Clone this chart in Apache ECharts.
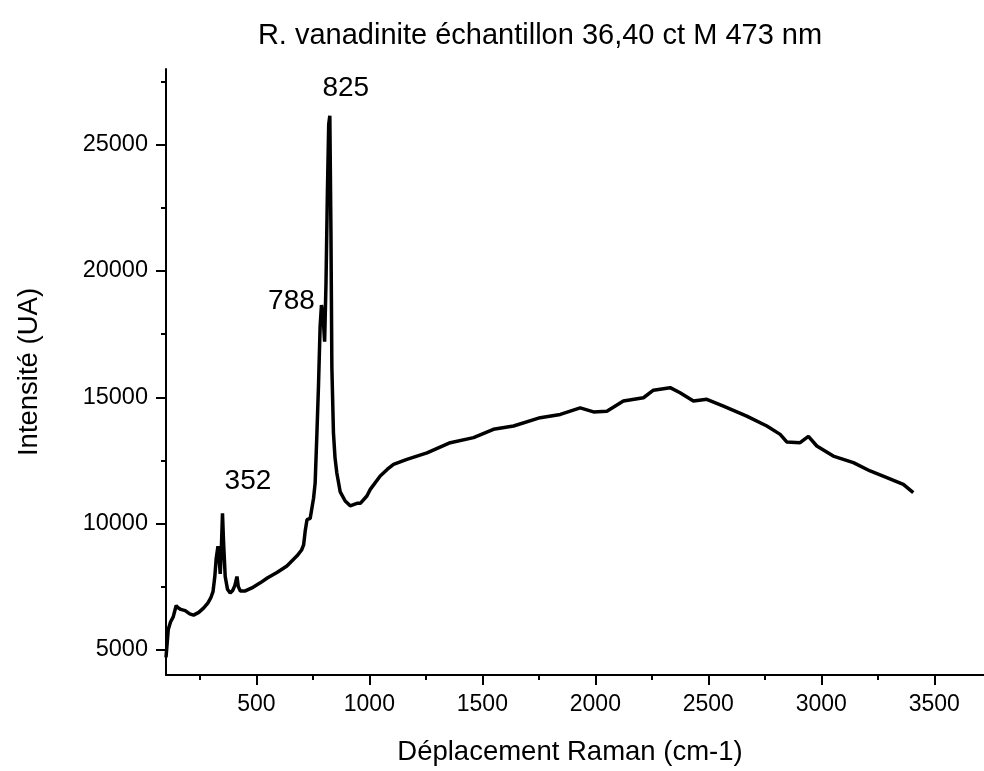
<!DOCTYPE html>
<html>
<head>
<meta charset="utf-8">
<script src="https://cdn.jsdelivr.net/npm/echarts@6/dist/echarts.min.js"></script>
<style>
  html, body { margin: 0; padding: 0; background: #fff; }
  #chart { width: 984px; height: 771px; }
</style>
</head>
<body>
<div id="chart"></div>
<script>
// spectre Raman
const wavenumber = [100, 110, 120, 132, 145, 155, 165, 185, 205, 222, 245, 266, 285, 298, 308, 316, 322, 330, 336, 340, 345, 350, 355, 362, 372, 384, 395, 405, 414, 420, 429, 451, 480, 517, 550, 591, 635, 680, 700, 709, 716, 724, 738, 746, 753, 760, 768, 775, 782, 788, 795, 802, 808, 814, 820, 825, 830, 834, 841, 848, 856, 871, 893, 915, 945, 960, 989, 1004, 1048, 1080, 1107, 1166, 1255, 1358, 1461, 1549, 1638, 1756, 1845, 1933, 1992, 2051, 2124, 2213, 2257, 2331, 2375, 2434, 2493, 2567, 2670, 2759, 2818, 2847, 2906, 2943, 2980, 3053, 3142, 3216, 3290, 3363, 3407];
const intensity = [4700, 5800, 6100, 6300, 6750, 6650, 6600, 6550, 6420, 6370, 6480, 6650, 6850, 7050, 7300, 7900, 8600, 9100, 8500, 8000, 9000, 10400, 9200, 7900, 7400, 7250, 7350, 7550, 7900, 7500, 7330, 7330, 7450, 7650, 7850, 8060, 8320, 8720, 8950, 9150, 9700, 10150, 10200, 10250, 11000, 11600, 13600, 15500, 17800, 18650, 18200, 17200, 19500, 23000, 25800, 26150, 21500, 16200, 13600, 12600, 12000, 11250, 10890, 10700, 10800, 10800, 11090, 11350, 11880, 12150, 12340, 12540, 12800, 13200, 13400, 13730, 13860, 14190, 14320, 14580, 14420, 14450, 14850, 14980, 15280, 15380, 15180, 14850, 14920, 14650, 14250, 13860, 13530, 13230, 13200, 13450, 13070, 12670, 12410, 12080, 11820, 11550, 11220];

const peakPos = [352, 788, 825];
const peakHeight = [10400, 18650, 26150];

const xMajor = [500, 1000, 1500, 2000, 2500, 3000, 3500];
const xMinor = [250, 750, 1250, 1750, 2250, 2750, 3250];
const yMajor = [5000, 10000, 15000, 20000, 25000];
const yMinor = [7500, 12500, 17500, 22500, 27500];

const FONT = 'Liberation Sans, Arial, sans-serif';
const chart = echarts.init(document.getElementById('chart'));

const points = wavenumber.map((x, i) => [x, intensity[i]]);
const labelOffsets = [[25, -32], [-30, -4], [16, -27]];

const axisBase = {
  type: 'value',
  splitLine: { show: false },
  axisLine: { onZero: false, lineStyle: { color: '#000', width: 2 } }
};
const plain = v => String(v);

const option = {
  animation: false,
  title: {
    text: 'R. vanadinite échantillon 36,40 ct M 473 nm',
    left: 535,
    top: 16,
    textAlign: 'center',
    textStyle: { fontFamily: FONT, fontSize: 29, fontWeight: 'normal', color: '#000' }
  },
  grid: { left: 166, right: 0, top: 69, bottom: 95 },
  xAxis: [
    Object.assign({}, axisBase, {
      min: 100, max: 3720, position: 'bottom',
      name: 'Déplacement Raman (cm-1)',
      nameLocation: 'middle',
      nameGap: 63,
      nameTextStyle: { fontFamily: FONT, fontSize: 27.5, color: '#000', padding: [0, 10, 0, 0] },
      axisTick: { customValues: xMajor, length: 10, lineStyle: { color: '#000', width: 2 } },
      axisLabel: { customValues: xMajor, formatter: plain, margin: 18, fontFamily: FONT, fontSize: 23, color: '#000' }
    }),
    Object.assign({}, axisBase, {
      min: 100, max: 3720, position: 'bottom',
      axisLine: { show: false, onZero: false },
      axisTick: { customValues: xMinor, length: 5, lineStyle: { color: '#000', width: 2 } },
      axisLabel: { show: false }
    })
  ],
  yAxis: [
    Object.assign({}, axisBase, {
      min: 4000, max: 28000, position: 'left',
      name: 'Intensité (UA)',
      nameLocation: 'middle',
      nameGap: 123,
      nameTextStyle: { fontFamily: FONT, fontSize: 27.5, color: '#000' },
      axisTick: { customValues: yMajor, length: 10, lineStyle: { color: '#000', width: 2 } },
      axisLabel: { customValues: yMajor, formatter: plain, margin: 18, fontFamily: FONT, fontSize: 23.5, color: '#000' }
    }),
    Object.assign({}, axisBase, {
      min: 4000, max: 28000, position: 'left',
      axisLine: { show: false, onZero: false },
      axisTick: { customValues: yMinor, length: 5, lineStyle: { color: '#000', width: 2 } },
      axisLabel: { show: false }
    })
  ],
  series: [
    {
      type: 'line',
      data: points,
      showSymbol: false,
      symbol: 'none',
      smooth: false,
      lineStyle: { color: '#000', width: 3.5 },
      markPoint: {
        symbol: 'circle',
        symbolSize: 1,
        itemStyle: { color: 'rgba(0,0,0,0)' },
        label: { show: true, fontFamily: FONT, fontSize: 28, color: '#000' },
        data: peakPos.map((p, i) => ({
          coord: [p, peakHeight[i]],
          label: { formatter: String(p), offset: labelOffsets[i] }
        }))
      }
    }
  ]
};

chart.setOption(option);
</script>
</body>
</html>
